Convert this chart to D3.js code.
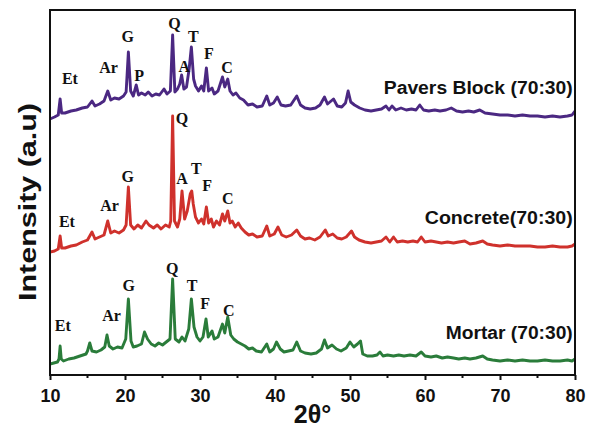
<!DOCTYPE html>
<html>
<head>
<meta charset="utf-8">
<script src="https://cdn.jsdelivr.net/npm/d3@7/dist/d3.min.js"></script>
<style>
  body { margin: 0; background: #fff; }
  svg { display: block; }
</style>
</head>
<body>
<div id="chart"></div>
<script>
// XRD patterns, stacked. values = [2theta, intensity (a.u., offset included)]
var mortar = [[10.0,11],[10.5,12],[11.0,13],[11.2,16],[11.35,29],[11.5,16],[11.8,14],[12.5,16],[13.2,17],[14.0,19],[14.8,21],[15.0,24],[15.3,32],[15.6,24],[16.2,23],[16.8,25],[17.3,28],[17.6,40],[17.9,29],[18.4,26],[19.0,28],[19.6,27],[20.1,36],[20.45,76],[20.8,34],[21.1,28],[21.6,29],[22.2,31],[22.6,43],[23.0,36],[23.5,31],[24.0,29],[24.5,32],[25.0,30],[25.5,33],[26.0,36],[26.35,96],[26.7,36],[27.2,33],[27.6,38],[28.0,34],[28.5,46],[28.85,76],[29.2,48],[29.6,38],[30.0,34],[30.4,38],[30.8,56],[31.1,38],[31.6,44],[31.9,36],[32.4,38],[33.0,51],[33.3,42],[33.7,58],[34.1,40],[34.5,36],[35.0,33],[35.5,31],[36.0,29],[36.5,26],[37.0,27],[37.5,24],[38.2,23],[38.9,31],[39.3,23],[39.8,26],[40.2,33],[40.7,26],[41.2,23],[41.8,24],[42.4,25],[42.9,33],[43.4,24],[44.0,22],[44.8,21],[45.5,22],[46.2,26],[46.6,35],[47.0,27],[47.6,30],[48.2,26],[48.8,24],[49.5,27],[50.0,33],[50.5,28],[51.0,31],[51.4,34],[51.7,21],[52.3,19],[53.0,19],[53.6,20],[54.0,23],[54.4,19],[55.0,20],[55.8,19],[56.5,20],[57.2,19],[58.0,20],[58.8,19],[59.5,23],[60.0,19],[60.8,18],[61.5,19],[62.3,17],[63.0,18],[63.8,17],[64.5,16],[65.3,17],[66.0,16],[66.8,17],[67.7,19],[68.3,16],[69.0,15],[70.0,14],[71.0,15],[72.0,14],[73.0,15],[74.0,14],[75.0,14],[76.0,15],[77.0,14],[78.0,14],[79.0,15],[79.6,14],[80.0,16]];

var concrete = [[10.0,123],[10.6,124],[11.1,126],[11.35,139],[11.55,127],[12.0,127],[12.8,129],[13.5,130],[14.3,133],[15.0,135],[15.6,143],[16.0,136],[16.6,138],[17.2,140],[17.7,154],[18.1,142],[18.6,144],[19.2,142],[19.8,145],[20.15,150],[20.45,188],[20.75,150],[21.2,146],[21.7,150],[22.2,147],[22.8,154],[23.2,150],[23.8,147],[24.3,150],[24.8,146],[25.4,150],[25.9,148],[26.1,154],[26.35,259],[26.6,154],[27.0,148],[27.3,156],[27.6,184],[27.95,156],[28.3,164],[28.7,181],[28.9,184],[29.1,171],[29.4,158],[29.8,152],[30.2,156],[30.5,151],[30.85,168],[31.15,152],[31.5,156],[31.8,148],[32.2,154],[32.6,150],[33.0,161],[33.3,154],[33.7,164],[34.0,152],[34.3,154],[34.7,148],[35.1,152],[35.5,147],[36.0,143],[36.5,140],[37.0,141],[37.6,138],[38.3,139],[38.9,149],[39.3,139],[39.9,141],[40.4,148],[40.9,140],[41.5,138],[42.2,140],[42.9,145],[43.4,139],[44.0,136],[44.6,137],[45.3,135],[46.0,138],[46.7,145],[47.1,139],[47.7,141],[48.3,137],[48.9,136],[49.5,138],[50.2,144],[50.6,138],[51.2,135],[52.0,133],[52.8,132],[53.5,133],[54.2,134],[54.8,138],[55.3,133],[55.8,138],[56.3,133],[57.0,134],[57.7,133],[58.4,134],[59.0,133],[59.5,138],[60.0,133],[60.8,134],[61.5,133],[62.2,132],[63.0,133],[63.8,132],[64.5,133],[65.3,134],[66.0,131],[66.8,132],[67.7,134],[68.3,131],[69.0,130],[70.0,129],[71.0,130],[72.0,129],[73.0,129],[74.0,129],[75.0,128],[76.0,128],[77.0,129],[78.0,128],[79.0,128],[79.6,129],[80.0,131]];

var pavers = [[10.0,256],[10.6,258],[11.1,260],[11.35,276],[11.55,262],[12.0,262],[12.8,264],[13.5,265],[14.3,267],[15.0,268],[15.6,274],[16.0,269],[16.6,271],[17.2,274],[17.7,284],[18.1,275],[18.6,277],[19.2,276],[19.8,279],[20.15,283],[20.45,323],[20.75,284],[21.1,279],[21.5,290],[21.8,280],[22.2,282],[22.7,280],[23.1,283],[23.6,279],[24.1,281],[24.6,280],[25.2,286],[25.6,281],[26.05,284],[26.35,340],[26.65,283],[27.0,286],[27.3,291],[27.55,300],[27.85,286],[28.2,288],[28.55,306],[28.85,328],[29.15,296],[29.4,289],[29.8,284],[30.2,289],[30.5,284],[30.85,307],[31.15,284],[31.6,287],[31.9,281],[32.4,284],[33.0,298],[33.3,288],[33.7,296],[34.0,284],[34.4,280],[34.8,282],[35.3,277],[35.8,275],[36.4,270],[37.0,271],[37.6,268],[38.3,269],[38.9,279],[39.3,270],[39.8,272],[40.3,278],[40.8,270],[41.4,269],[42.1,270],[42.9,279],[43.4,270],[44.0,267],[44.7,266],[45.4,267],[46.0,270],[46.6,278],[47.0,271],[47.8,276],[48.3,269],[48.9,268],[49.4,272],[49.75,284],[50.1,273],[50.6,270],[51.3,267],[52.0,265],[52.8,264],[53.5,265],[54.2,266],[54.8,269],[55.2,265],[55.6,269],[56.1,265],[56.8,267],[57.5,265],[58.2,266],[58.8,265],[59.3,270],[59.8,265],[60.5,264],[61.3,265],[62.0,264],[62.8,265],[63.5,267],[64.2,264],[65.0,263],[65.8,264],[66.5,263],[67.3,265],[68.0,262],[69.0,261],[70.0,260],[71.0,260],[72.0,259],[73.0,260],[74.0,259],[75.0,259],[76.0,258],[77.0,259],[78.0,258],[79.0,259],[79.6,260],[80.0,264]];

// phase labels: [text, 2theta, intensity]
var paversPeaks = [["Et",12.65,291],["Ar",17.8,302],["G",20.35,333],["P",21.9,294],["Q",26.6,346],["A",27.9,303],["T",29.1,333],["F",31.2,316],["C",33.6,302]];
var concretePeaks = [["Et",12.25,148],["Ar",17.95,164],["G",20.35,193],["Q",27.6,251],["A",27.6,191],["T",29.5,201],["F",30.95,184],["C",33.7,171]];
var mortarPeaks = [["Et",11.7,44],["Ar",18.2,54],["G",20.5,84],["Q",26.3,101],["T",28.95,84],["F",30.7,66],["C",33.85,59]];

var seriesNames = ["Pavers Block (70:30)", "Concrete(70:30)", "Mortar (70:30)"];
var nameY = [281, 151, 36];
var nameLen = [189, 148, 127];
var colors = ["#4b2882", "#cf312c", "#2a7c3a"];

var xTicks = [10, 20, 30, 40, 50, 60, 70, 80];
var xMinor = [15, 25, 35, 45, 55, 65, 75];

var W = 591, H = 429;
var mLeft = 50, mRight = 575, mTop = 10, mBottom = 375;

var svg = d3.select("#chart").append("svg")
    .attr("width", W)
    .attr("height", H);

var x = d3.scaleLinear().domain([10, 80]).range([mLeft, mRight]);
var y = d3.scaleLinear().domain([0, 365]).range([mBottom, mTop]);

var line = d3.line()
    .x(function(d) { return x(d[0]); })
    .y(function(d) { return y(d[1]); });

var allSeries = [pavers, concrete, mortar];
var allPeaks = [paversPeaks, concretePeaks, mortarPeaks];

svg.append("defs").append("clipPath").attr("id", "clip")
  .append("rect")
    .attr("x", mLeft).attr("y", mTop)
    .attr("width", mRight - mLeft).attr("height", mBottom - mTop);

var plot = svg.append("g").attr("clip-path", "url(#clip)");

allSeries.forEach(function(s, i) {
  plot.append("path")
    .datum(s)
    .attr("d", line)
    .attr("fill", "none")
    .attr("stroke", colors[i])
    .attr("stroke-width", 2.9)
    .attr("stroke-linejoin", "round");
});

allPeaks.forEach(function(p) {
  svg.selectAll(null)
    .data(p)
    .enter().append("text")
      .attr("x", function(d) { return x(d[1]); })
      .attr("y", function(d) { return y(d[2]); })
      .attr("text-anchor", "middle")
      .style("font-family", "'Liberation Serif', 'Times New Roman', serif")
      .style("font-weight", "bold")
      .style("font-size", "16px")
      .attr("fill", "#111")
      .text(function(d) { return d[0]; });
});

seriesNames.forEach(function(n, i) {
  svg.append("text")
    .attr("x", x(79.7))
    .attr("y", y(nameY[i]))
    .attr("text-anchor", "end")
    .attr("textLength", nameLen[i])
    .attr("lengthAdjust", "spacingAndGlyphs")
    .style("font-family", "'Liberation Sans', Arial, sans-serif")
    .style("font-weight", "bold")
    .style("font-size", "18px")
    .attr("fill", "#111")
    .text(n);
});

// frame
svg.append("rect")
  .attr("x", mLeft).attr("y", mTop)
  .attr("width", mRight - mLeft).attr("height", mBottom - mTop)
  .attr("fill", "none")
  .attr("stroke", "#111")
  .attr("stroke-width", 2);

// x axis
var xAxis = svg.append("g")
  .attr("transform", "translate(0," + mBottom + ")")
  .call(d3.axisBottom(x).tickValues(xTicks).tickSize(5).tickPadding(9).tickSizeOuter(0));
xAxis.select(".domain").remove();
xAxis.selectAll("line").attr("stroke", "#111").attr("stroke-width", 2);
xAxis.selectAll("text")
  .style("font-family", "'Liberation Sans', Arial, sans-serif")
  .style("font-weight", "bold")
  .style("font-size", "18px")
  .attr("fill", "#111");

svg.selectAll(".minor")
  .data(xMinor)
  .enter().append("line")
    .attr("class", "minor")
    .attr("x1", function(d) { return x(d); })
    .attr("x2", function(d) { return x(d); })
    .attr("y1", mBottom)
    .attr("y2", mBottom + 3)
    .attr("stroke", "#111")
    .attr("stroke-width", 2);

// axis titles
svg.append("text")
  .attr("x", (mLeft + mRight) / 2)
  .attr("y", 423)
  .attr("text-anchor", "middle")
  .style("font-family", "'Liberation Sans', Arial, sans-serif")
  .style("font-weight", "bold")
  .style("font-size", "25px")
  .attr("fill", "#111")
  .text("2θ°");

svg.append("text")
  .attr("transform", "translate(36,202) rotate(-90)")
  .attr("text-anchor", "middle")
  .attr("textLength", 198)
  .attr("lengthAdjust", "spacingAndGlyphs")
  .style("font-family", "'Liberation Sans', Arial, sans-serif")
  .style("font-weight", "bold")
  .style("font-size", "24px")
  .attr("fill", "#111")
  .text("Intensity (a.u)");
</script>
</body>
</html>
